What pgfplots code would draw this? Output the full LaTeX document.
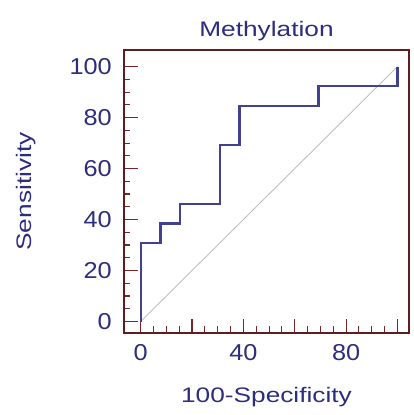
\documentclass[border=0pt]{standalone}
\usepackage{pgfplots}
\pgfplotsset{compat=1.18}
\usepackage{fontspec}
\setmainfont{Liberation Sans}
\newfontfamily\labfont[FakeStretch=1.25]{Liberation Sans}
\newfontfamily\tickfont[FakeStretch=1.1]{Liberation Sans}
\definecolor{navy}{RGB}{45,45,125}
\definecolor{curve}{RGB}{65,65,145}
\definecolor{frame}{RGB}{95,30,30}
\definecolor{tickc}{RGB}{125,35,35}
\begin{document}
\begin{tikzpicture}
\begin{axis}[
scale only axis, width=285pt, height=283pt,
xmin=-6.5, xmax=104.5, ymin=-4.5, ymax=106.5,
axis line style={frame, line width=1.3pt},
xtick={0,20,...,100}, ytick={0,20,...,100},
xticklabels={0,,40,,80,},
minor x tick num=3, minor y tick num=3,
tick align=inside, xtick pos=bottom, ytick pos=left,
major tick length=14pt, minor tick length=6.5pt,
every tick/.style={tickc, line width=1.1pt},
tick label style={font=\tickfont\fontsize{23}{25}\selectfont, text=navy},
xticklabel style={anchor=base, yshift=-27pt},
yticklabel style={anchor=east, inner sep=0pt, xshift=-12pt},
/pgf/number format/assume math mode=true,
title={Methylation},
title style={font=\labfont\fontsize{21}{23}\selectfont, text=navy,
  at={(axis description cs:0.5,1.025)}, anchor=base},
xlabel={100-Specificity}, ylabel={Sensitivity},
label style={font=\labfont\fontsize{21}{23}\selectfont, text=navy},
xlabel style={at={(axis description cs:0.5,-0.247)}, anchor=base},
ylabel style={at={(axis description cs:-0.3228,0.5)}, anchor=base},
clip=false,
]
\addplot[gray!50, line width=0.9pt] coordinates {(0,0)(100,100)};
\addplot[curve, line width=2.2pt, line join=miter] coordinates {
(0,0)(0,30.77)(7.69,30.77)(7.69,38.46)(15.38,38.46)(15.38,46.15)
(30.77,46.15)(30.77,69.23)(38.46,69.23)(38.46,84.62)(69.23,84.62)
(69.23,92.31)(100,92.31)(100,100)};
\coordinate (bl) at (rel axis cs:0,0);
\end{axis}
\pgfresetboundingbox
\path (bl) ++(-124pt,-82pt) rectangle ++(414pt,415pt);
\end{tikzpicture}
\end{document}
